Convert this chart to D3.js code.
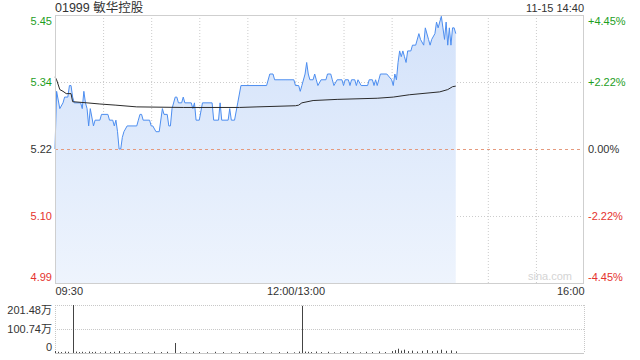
<!DOCTYPE html>
<html>
<head>
<meta charset="utf-8">
<script src="https://cdn.jsdelivr.net/npm/d3@7"></script>
<style>
  body { margin: 0; background: #fff; }
  svg { display: block; font-family: "Liberation Sans", Arial, "Noto Sans CJK SC", sans-serif; }
</style>
</head>
<body>
<svg id="chart" width="640" height="360"></svg>
<script>
// stock info
const stockCode = "01999";
const stockName = "敏华控股";
const stampText = "11-15 14:40";
const prevClose = 5.22;

// price line: minutes since open (trading minutes only) and price
const priceMinute = [0, 1, 3, 5, 6, 8, 9, 10, 11, 12, 16, 17, 18, 19, 20, 21, 22, 24, 25, 28, 29, 33, 34, 36, 37, 38, 39, 40, 41, 42, 43, 45,
  51, 52, 53, 54, 55, 59, 60, 61, 63, 65, 67, 68, 70, 71, 72, 73, 75, 76, 77, 79, 80, 81, 85, 86, 87, 88, 90, 92, 98, 99,
  102, 103, 104, 108, 109, 110, 112, 114, 116, 132, 134, 136, 137, 149, 150,
  152, 153, 154, 156, 157, 158, 159, 161, 162, 163, 164, 166, 169, 170, 172, 173, 174, 176, 179, 180, 181, 183, 184, 185,
  187, 188, 189, 191, 195, 196, 198, 199, 200, 201, 202, 203, 207, 210, 211, 212, 213, 214, 215, 216, 217, 218, 219, 220,
  222, 223, 225, 227, 228, 230, 231, 233, 234, 235, 237, 238, 239, 241, 242, 243, 244, 245, 246, 247, 248, 249, 250];
const priceValue = [5.22, 5.32, 5.29, 5.30, 5.31, 5.31, 5.33, 5.33, 5.31, 5.30, 5.30, 5.29, 5.32, 5.30, 5.29, 5.26, 5.29, 5.26, 5.27, 5.27, 5.28, 5.28, 5.27, 5.27, 5.26, 5.27, 5.25, 5.22, 5.22, 5.24, 5.25, 5.26,
  5.26, 5.27, 5.28, 5.28, 5.27, 5.27, 5.26, 5.26, 5.25, 5.25, 5.29, 5.28, 5.28, 5.26, 5.26, 5.29, 5.31, 5.31, 5.30, 5.30, 5.31, 5.30, 5.30, 5.29, 5.30, 5.27, 5.27, 5.30, 5.30, 5.27,
  5.27, 5.30, 5.27, 5.27, 5.29, 5.27, 5.27, 5.30, 5.33, 5.33, 5.35, 5.35, 5.34, 5.34, 5.33,
  5.33, 5.32, 5.33, 5.35, 5.37, 5.35, 5.34, 5.34, 5.35, 5.34, 5.33, 5.34, 5.34, 5.35, 5.35, 5.34, 5.33, 5.34, 5.34, 5.33, 5.34, 5.34, 5.33, 5.34,
  5.34, 5.33, 5.34, 5.33, 5.33, 5.34, 5.34, 5.33, 5.34, 5.33, 5.34, 5.35, 5.35, 5.34, 5.33, 5.35, 5.34, 5.37, 5.39, 5.38, 5.39, 5.38, 5.37, 5.39,
  5.39, 5.40, 5.40, 5.42, 5.41, 5.40, 5.43, 5.41, 5.40, 5.41, 5.42, 5.44, 5.43, 5.45, 5.43, 5.41, 5.44, 5.40, 5.43, 5.40, 5.43, 5.43, 5.42];

// average price line
const avgMinute = [0, 1, 3, 5, 7, 10, 11, 20, 28, 38, 51, 80, 115, 126, 150, 152, 154, 161, 176, 201, 211, 221, 240, 245, 248, 250];
const avgValue = [5.345, 5.34, 5.323, 5.32, 5.316, 5.316, 5.302, 5.300, 5.298, 5.296, 5.293, 5.292, 5.292, 5.293, 5.295, 5.296, 5.300, 5.304, 5.306, 5.308, 5.310, 5.314, 5.319, 5.323, 5.328, 5.329];

// volume (万股)
const volMinute = [0, 2, 4, 6, 8, 11, 13, 15, 17, 19, 21, 23, 25, 28, 31, 34, 37, 40, 43, 46, 50, 54, 58, 62, 66, 70, 75, 78, 82, 86, 90,
  95, 100, 105, 110, 115, 120, 125, 130, 135, 140, 145, 149, 152, 154, 156, 158, 160, 163, 166, 170, 174, 178, 182, 186, 190, 194,
  198, 202, 206, 210, 212, 214, 216, 218, 220, 223, 226, 229, 232, 235, 238, 241, 244, 247, 250];
const volValue = [8, 5, 4, 6, 5, 201.48, 6, 4, 5, 3, 6, 4, 5, 3, 6, 4, 5, 8, 4, 3, 5, 4, 3, 6, 4, 5, 42, 4, 3, 5, 4,
  3, 5, 4, 3, 4, 5, 3, 4, 3, 4, 5, 3, 6, 198, 6, 5, 4, 6, 4, 5, 3, 4, 5, 4, 3, 5,
  4, 6, 4, 8, 12, 18, 10, 14, 8, 10, 6, 9, 12, 8, 10, 14, 9, 11, 7];

// ticks
const pctTicks = [4.45, 2.22, 0, -2.22, -4.45];
const timeTicks = [0, 150, 330];
const timeLabels = ["09:30", "12:00/13:00", "16:00"];
const volTicks = [201.48, 100.74, 0];

const green = "#1e9e1e", red = "#e5332e", dark = "#333";
const mLeft = 55, mRight = 584, mTop = 15, mBottom = 283;
const vTop = 305, vBottom = 353;

const svg = d3.select("#chart");

const x = d3.scaleLinear().domain([0, 330]).range([mLeft, mRight]);
const y = d3.scaleLinear()
  .domain([prevClose * (1 - 0.0445), prevClose * (1 + 0.0445)])
  .range([mBottom, mTop]);
const yv = d3.scaleLinear().domain([0, 201.48]).range([vBottom, vTop]);

const tickColor = p => p > 0 ? green : (p < 0 ? red : dark);

// header
svg.append("text").attr("x", mLeft).attr("y", 12)
  .attr("font-size", 12.5).attr("fill", dark)
  .text(stockCode + " " + stockName);
svg.append("text").attr("x", mRight).attr("y", 12)
  .attr("text-anchor", "end").attr("font-size", 11).attr("fill", dark)
  .text(stampText);

// gradient for area
const grad = svg.append("defs").append("linearGradient")
  .attr("id", "fill").attr("x1", 0).attr("y1", 0).attr("x2", 0).attr("y2", 1);
grad.append("stop").attr("offset", "0%").attr("stop-color", "#d3e2fa");
grad.append("stop").attr("offset", "100%").attr("stop-color", "#eef4fd");

// vertical grid
svg.append("g").selectAll("line")
  .data(d3.range(30, 330, 30))
  .join("line")
  .attr("x1", d => x(d) + 0.5).attr("x2", d => x(d) + 0.5)
  .attr("y1", mTop).attr("y2", mBottom)
  .attr("stroke", "#ccc").attr("stroke-dasharray", "1,2");

// horizontal grid
svg.append("g").selectAll("line")
  .data([2.22, -2.22])
  .join("line")
  .attr("x1", mLeft).attr("x2", mRight)
  .attr("y1", d => Math.round(y(prevClose * (1 + d / 100))) + 0.5)
  .attr("y2", d => Math.round(y(prevClose * (1 + d / 100))) + 0.5)
  .attr("stroke", "#ccc").attr("stroke-dasharray", "1,2");

// area + line
const pts = priceMinute.map((m, i) => [m, priceValue[i]]);
svg.append("path").datum(pts)
  .attr("fill", "url(#fill)")
  .attr("d", d3.area().x(d => x(d[0])).y0(mBottom).y1(d => y(d[1])));

// previous close
svg.append("line")
  .attr("x1", mLeft).attr("x2", mRight)
  .attr("y1", Math.round(y(prevClose)) + 0.5).attr("y2", Math.round(y(prevClose)) + 0.5)
  .attr("stroke", "#e59a7e").attr("stroke-dasharray", "3,3");

svg.append("path").datum(pts)
  .attr("fill", "none").attr("stroke", "#4d8ef0").attr("stroke-width", 1)
  .attr("d", d3.line().x(d => x(d[0])).y(d => y(d[1])));

const avgPts = avgMinute.map((m, i) => [m, avgValue[i]]);
svg.append("path").datum(avgPts)
  .attr("fill", "none").attr("stroke", "#2b2b2b").attr("stroke-width", 1)
  .attr("d", d3.line().x(d => x(d[0])).y(d => y(d[1])));

// frame
svg.append("rect")
  .attr("x", mLeft + 0.5).attr("y", mTop + 0.5)
  .attr("width", mRight - mLeft - 1).attr("height", mBottom - mTop)
  .attr("fill", "none").attr("stroke", "#cfcfcf");

// watermark
svg.append("text").attr("x", mRight - 12).attr("y", mBottom - 3)
  .attr("text-anchor", "end").attr("font-size", 11).attr("fill", "#d4d4d4")
  .text("sina.com");

// left price axis
const leftAxis = svg.append("g")
  .attr("transform", `translate(${mLeft - 3},0)`)
  .call(d3.axisLeft(y)
    .tickValues(pctTicks.map(p => prevClose * (1 + p / 100)))
    .tickFormat(d3.format(".2f"))
    .tickSize(0).tickPadding(0));
leftAxis.select(".domain").remove();
leftAxis.selectAll("text")
  .attr("font-size", 11)
  .attr("font-family", "Liberation Sans, Arial, sans-serif")
  .attr("fill", (d, i) => tickColor(pctTicks[i]))
  .attr("dy", (d, i) => i === 0 ? "0.85em" : (i === pctTicks.length - 1 ? "-0.2em" : "0.32em"));

// right percent axis
const rightAxis = svg.append("g")
  .attr("transform", `translate(${mRight + 4},0)`)
  .call(d3.axisRight(y)
    .tickValues(pctTicks.map(p => prevClose * (1 + p / 100)))
    .tickFormat((d, i) => (pctTicks[i] > 0 ? "+" : "") + pctTicks[i].toFixed(2) + "%")
    .tickSize(0).tickPadding(0));
rightAxis.select(".domain").remove();
rightAxis.selectAll("text")
  .attr("font-size", 11)
  .attr("font-family", "Liberation Sans, Arial, sans-serif")
  .attr("fill", (d, i) => tickColor(pctTicks[i]))
  .attr("dy", (d, i) => i === 0 ? "0.85em" : (i === pctTicks.length - 1 ? "-0.2em" : "0.32em"));

// time axis
const timeAxis = svg.append("g")
  .attr("transform", `translate(0,${mBottom + 4})`)
  .call(d3.axisBottom(x).tickValues(timeTicks)
    .tickFormat((d, i) => timeLabels[i]).tickSize(0).tickPadding(0));
timeAxis.select(".domain").remove();
timeAxis.selectAll("text")
  .attr("font-size", 11)
  .attr("font-family", "Liberation Sans, Arial, sans-serif")
  .attr("fill", dark)
  .attr("text-anchor", (d, i) => i === 0 ? "start" : (i === timeTicks.length - 1 ? "end" : "middle"));

// volume panel frame
[vTop, (vTop + vBottom) / 2].forEach(v => {
  svg.append("line").attr("x1", mLeft).attr("x2", mRight)
    .attr("y1", v + 0.5).attr("y2", v + 0.5)
    .attr("stroke", "#c8c8c8").attr("stroke-dasharray", "1,1");
});
[mLeft, mRight].forEach(v => {
  svg.append("line").attr("x1", v + 0.5).attr("x2", v + 0.5)
    .attr("y1", vTop).attr("y2", vBottom)
    .attr("stroke", "#c8c8c8").attr("stroke-dasharray", "1,1");
});
svg.append("line").attr("x1", mLeft).attr("x2", mRight)
  .attr("y1", vBottom + 0.5).attr("y2", vBottom + 0.5)
  .attr("stroke", "#c8c8c8");

// volume bars
svg.append("g").selectAll("line")
  .data(volMinute.map((m, i) => [m, volValue[i]]))
  .join("line")
  .attr("x1", d => Math.round(x(d[0])) + 0.5).attr("x2", d => Math.round(x(d[0])) + 0.5)
  .attr("y1", vBottom).attr("y2", d => yv(d[1]))
  .attr("stroke", "#444").attr("stroke-width", 1);

// volume axis
const volAxis = svg.append("g")
  .attr("transform", `translate(${mLeft - 3},0)`)
  .call(d3.axisLeft(yv).tickValues(volTicks)
    .tickFormat(d => d === 0 ? "0" : d3.format(".2f")(d) + "万")
    .tickSize(0).tickPadding(0));
volAxis.select(".domain").remove();
volAxis.selectAll("text")
  .attr("font-size", 11)
  .attr("font-family", "Liberation Sans, Arial, Noto Sans CJK SC, sans-serif")
  .attr("fill", dark)
  .attr("dy", (d, i) => i === 0 ? "0.75em" : (i === volTicks.length - 1 ? "-0.25em" : "0.32em"));
</script>
</body>
</html>
